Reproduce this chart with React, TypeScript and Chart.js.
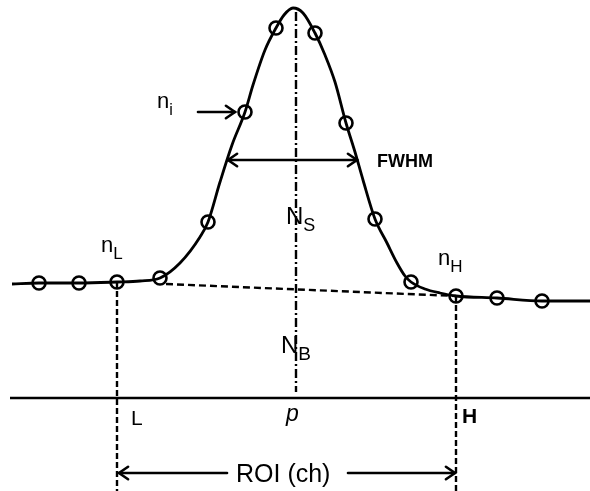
import React, { useEffect, useRef } from "react";
import { Chart, registerables } from "chart.js";

Chart.register(...registerables);

// Smooth spectrum curve (channel, counts)
const curveX = [12, 39, 79, 117, 140, 160, 180, 200, 208, 220, 232, 245, 253, 265, 276, 284, 293, 303, 315, 325, 335, 346, 355, 363, 375, 387, 397, 405, 411, 425, 440, 456, 497, 542, 590];
const curveY = [114, 115, 115, 116, 117, 120, 135, 161, 176, 216, 253, 286, 313, 348, 370, 383, 390, 385, 365, 343, 316, 275, 246, 218, 179, 155, 135, 122, 116, 109, 105, 102, 100, 97, 97];

// Measured channel contents (circles)
const pointX = [39, 79, 117, 160, 208, 245, 276, 315, 346, 375, 411, 456, 497, 542];
const pointY = [115, 115, 116, 120, 176, 286, 370, 365, 275, 179, 116, 102, 100, 97];

// Channel axis (baseline) and markers
const axisX = [10, 590];
const axisY = [0, 0];
const bgX = [166, 456];
const bgY = [114, 102];
const lowX = [117, 117];
const lowY = [116, -93];
const highX = [456, 456];
const highY = [102, -93];
const peakX = [296, 296];
const peakY = [386, 6];

// Arrows: [x1, y1, x2, y2, headAtStart, headAtEnd]
const arrows: [number, number, number, number, boolean, boolean][] = [
  [198, 286, 235, 286, false, true],
  [228, 238, 357, 238, true, true],
  [119, -75, 227, -75, true, false],
  [348, -75, 455, -75, false, true],
];

// Labels: [main, sub, x, y, fontSize, subSize, italic, bold]
const labels: [string, string, number, number, number, number, boolean, boolean][] = [
  ["n", "i", 157, 290, 22, 16, false, false],
  ["n", "L", 101, 146, 22, 17, false, false],
  ["n", "H", 438, 133, 22, 17, false, false],
  ["N", "S", 286, 174, 24, 18, false, false],
  ["N", "B", 281, 45, 24, 19, false, false],
  ["FWHM", "", 377, 231, 18, 0, false, true],
  ["L", "", 131, -27, 21, 0, false, false],
  ["p", "", 286, -23, 23, 0, true, false],
  ["H", "", 462, -25, 21, 0, false, true],
  ["ROI (ch)", "", 236, -84, 25, 0, false, false],
];

const toXY = (xs: number[], ys: number[]) => xs.map((x, i) => ({ x, y: ys[i] }));

const annotations = {
  id: "annotations",
  afterDatasetsDraw(chart: any) {
    const { ctx, scales } = chart;
    const sx = scales.x;
    const sy = scales.y;
    ctx.save();
    ctx.strokeStyle = "#000";
    ctx.lineWidth = 2.6;
    ctx.lineCap = "round";
    const head = (tx: number, ty: number, dir: number) => {
      const len = 11;
      const a = 0.6;
      ctx.beginPath();
      ctx.moveTo(tx - dir * len * Math.cos(a), ty - len * Math.sin(a));
      ctx.lineTo(tx, ty);
      ctx.lineTo(tx - dir * len * Math.cos(a), ty + len * Math.sin(a));
      ctx.stroke();
    };
    for (const [x1, y1, x2, y2, hs, he] of arrows) {
      const px1 = sx.getPixelForValue(x1);
      const py1 = sy.getPixelForValue(y1);
      const px2 = sx.getPixelForValue(x2);
      const py2 = sy.getPixelForValue(y2);
      ctx.beginPath();
      ctx.moveTo(px1, py1);
      ctx.lineTo(px2, py2);
      ctx.stroke();
      if (hs) head(px1, py1, -1);
      if (he) head(px2, py2, 1);
    }
    ctx.fillStyle = "#000";
    ctx.textBaseline = "alphabetic";
    ctx.textAlign = "left";
    for (const [main, sub, x, y, fs, ss, italic, bold] of labels) {
      const px = sx.getPixelForValue(x);
      const py = sy.getPixelForValue(y);
      ctx.font = `${italic ? "italic " : ""}${bold ? "bold " : ""}${fs}px "Liberation Sans", Arial, sans-serif`;
      ctx.fillText(main, px, py);
      if (sub) {
        const w = ctx.measureText(main).width;
        ctx.font = `${ss}px "Liberation Sans", Arial, sans-serif`;
        ctx.fillText(sub, px + w, py + 7);
      }
    }
    ctx.restore();
  },
};

export default function App() {
  const ref = useRef<HTMLCanvasElement | null>(null);
  useEffect(() => {
    if (!ref.current) return;
    const line = (data: any, extra: any = {}) => ({
      data,
      showLine: true,
      pointRadius: 0,
      borderColor: "#000",
      borderWidth: 2.4,
      fill: false,
      ...extra,
    });
    const chart = new Chart(ref.current, {
      type: "scatter",
      data: {
        datasets: [
          line(toXY(axisX, axisY), { borderWidth: 2.6 }),
          line(toXY(bgX, bgY), { borderDash: [7, 4] }),
          line(toXY(lowX, lowY), { borderDash: [6, 3] }),
          line(toXY(highX, highY), { borderDash: [6, 3] }),
          line(toXY(peakX, peakY), { borderDash: [9, 3, 2, 3] }),
          line(toXY(curveX, curveY), { borderWidth: 2.8, tension: 0.4, cubicInterpolationMode: "monotone" }),
          {
            data: toXY(pointX, pointY),
            showLine: false,
            pointRadius: 6.5,
            pointBackgroundColor: "#fff",
            pointBorderColor: "#000",
            pointBorderWidth: 2.6,
          },
        ],
      },
      options: {
        animation: false,
        responsive: false,
        maintainAspectRatio: false,
        layout: { padding: 0, autoPadding: false },
        plugins: { legend: { display: false }, tooltip: { enabled: false } },
        events: [],
        scales: {
          x: { type: "linear", display: false, min: 0, max: 590 },
          y: { type: "linear", display: false, min: -93, max: 398 },
        },
      },
      plugins: [annotations],
    });
    return () => chart.destroy();
  }, []);
  return (
    <div style={{ position: "fixed", left: 0, top: 0, width: 590, height: 491, background: "#fff" }}>
      <canvas ref={ref} width={590} height={491} style={{ display: "block" }} />
    </div>
  );
}
